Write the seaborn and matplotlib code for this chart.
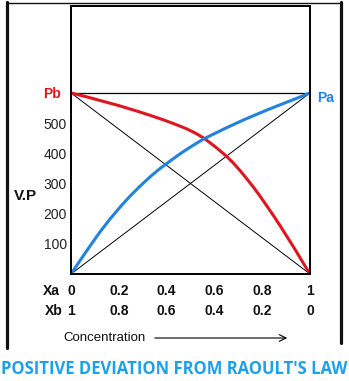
import matplotlib
matplotlib.use("Agg")
import matplotlib.pyplot as plt
from matplotlib.lines import Line2D
import seaborn as sns
import pandas as pd

# Mole fraction of A and partial vapour pressure of B (positive deviation)
xa_pb = [0.0, 0.07, 0.135, 0.2, 0.275, 0.33, 0.386, 0.44, 0.484, 0.52, 0.554,
         0.58, 0.609, 0.651, 0.68, 0.707, 0.735, 0.763, 0.79, 0.819, 0.85,
         0.874, 0.902, 0.93, 0.95, 0.972, 1.0]
pb_vals = [600, 586, 572, 558, 540, 526, 511, 495, 481, 467, 451,
           436, 418, 390, 367, 343, 316, 288, 259, 226, 190,
           161, 126, 91, 65, 36, 0]

# Mole fraction of A and partial vapour pressure of A
xa_pa = [0.0, 0.04, 0.079, 0.12, 0.163, 0.21, 0.247, 0.29, 0.331, 0.37, 0.414,
         0.456, 0.498, 0.554, 0.6, 0.644, 0.69, 0.735, 0.78, 0.819, 0.86,
         0.902, 0.95, 1.0]
pa_vals = [0, 47, 92, 138, 182, 226, 258, 292, 322, 348, 374,
           398, 420, 447, 465, 482, 499, 515, 530, 543, 556,
           569, 584, 600]

# Pure component vapour pressures (Raoult's law end points)
p_b_pure = 600
p_a_pure = 600

y_ticks = [100, 200, 300, 400, 500]
xa_ticks = [0.0, 0.2, 0.4, 0.6, 0.8, 1.0]
xa_labels = ["0", "0.2", "0.4", "0.6", "0.8", "1"]
xb_labels = ["1", "0.8", "0.6", "0.4", "0.2", "0"]

RED = "#DD1620"
BLUE = "#2282DC"
TITLE_BLUE = "#1DA0E6"

sns.set_theme(style="white")
plt.rcParams["font.family"] = ["Liberation Sans", "DejaVu Sans"]

W, H = 349, 381
fig = plt.figure(figsize=(W / 100, H / 100), dpi=100)
ax = fig.add_axes([71 / W, 1 - 274 / H, 239 / W, 268 / H])

df_b = pd.DataFrame({"xa": xa_pb, "p": pb_vals})
df_a = pd.DataFrame({"xa": xa_pa, "p": pa_vals})

# Ideal (Raoult) straight lines and the pure-pressure level
ax.plot([0, 1], [p_b_pure, 0], color="black", lw=0.7)
ax.plot([0, 1], [0, p_a_pure], color="black", lw=0.7)
ax.plot([0, 1], [p_b_pure, p_a_pure], color="black", lw=0.9)

sns.lineplot(data=df_b, x="xa", y="p", ax=ax, color=RED, lw=2.2, sort=False)
sns.lineplot(data=df_a, x="xa", y="p", ax=ax, color=BLUE, lw=2.2, sort=False)

ax.set_xlim(0, 1)
ax.set_ylim(0, 888)
ax.set_xlabel("")
ax.set_ylabel("")
for s in ax.spines.values():
    s.set_visible(True)
    s.set_color("black")
    s.set_linewidth(1.4)

ax.set_yticks(y_ticks)
ax.set_yticklabels([str(v) for v in y_ticks], fontsize=10, color="#222222")
ax.set_xticks(xa_ticks)
ax.set_xticklabels([f"{a}\n{b}" for a, b in zip(xa_labels, xb_labels)],
                   fontsize=10, fontweight="bold", color="#111111", linespacing=1.55)
ax.tick_params(axis="both", length=0)
ax.tick_params(axis="y", pad=3)
ax.tick_params(axis="x", pad=7)

# End-point labels
ax.annotate("Pb", xy=(0, p_b_pure), xytext=(-7, -1), textcoords="offset points",
            ha="right", va="center", color=RED, fontsize=10, fontweight="bold")
ax.annotate("Pa", xy=(1, p_a_pure), xytext=(5, -3.5), textcoords="offset points",
            ha="left", va="center", color=BLUE, fontsize=10, fontweight="bold")

fig.text(14 / W, 1 - 196 / H, "V.P", ha="left", va="center", fontsize=11,
         fontweight="bold", color="#111111")
fig.text(43 / W, 1 - 291 / H, "Xa", ha="left", va="center", fontsize=10,
         fontweight="bold", color="#111111")
fig.text(45 / W, 1 - 311 / H, "Xb", ha="left", va="center", fontsize=10,
         fontweight="bold", color="#111111")

fig.text(63 / W, 1 - 338 / H, "Concentration", ha="left", va="center",
         fontsize=9.5, color="#111111")
fig.add_artist(plt.Annotation("", xy=(290 / W, 1 - 338 / H), xytext=(152 / W, 1 - 338 / H),
                              xycoords="figure fraction", textcoords="figure fraction",
                              arrowprops=dict(arrowstyle="->", lw=0.8, color="black",
                                              mutation_scale=12)))

# Outer frame
fig.add_artist(Line2D([7.5 / W, 7.5 / W], [1 - 2 / H, 1 - 348 / H], color="#111111", lw=2.3))
fig.add_artist(Line2D([7 / W, 342 / W], [1 - 2.5 / H, 1 - 2.5 / H], color="#111111", lw=1.0))
fig.add_artist(Line2D([340.5 / W, 340.5 / W], [1 - 2 / H, 1 - 343 / H], color="#111111", lw=2.3))

fig.text(0.5, 1 - 369 / H, "POSITIVE DEVIATION FROM RAOULT'S LAW", ha="center",
         va="center", fontsize=12, fontweight="bold", color=TITLE_BLUE,
         family=["Open Sans", "DejaVu Sans"])

fig.savefig("out.png", dpi=100)
